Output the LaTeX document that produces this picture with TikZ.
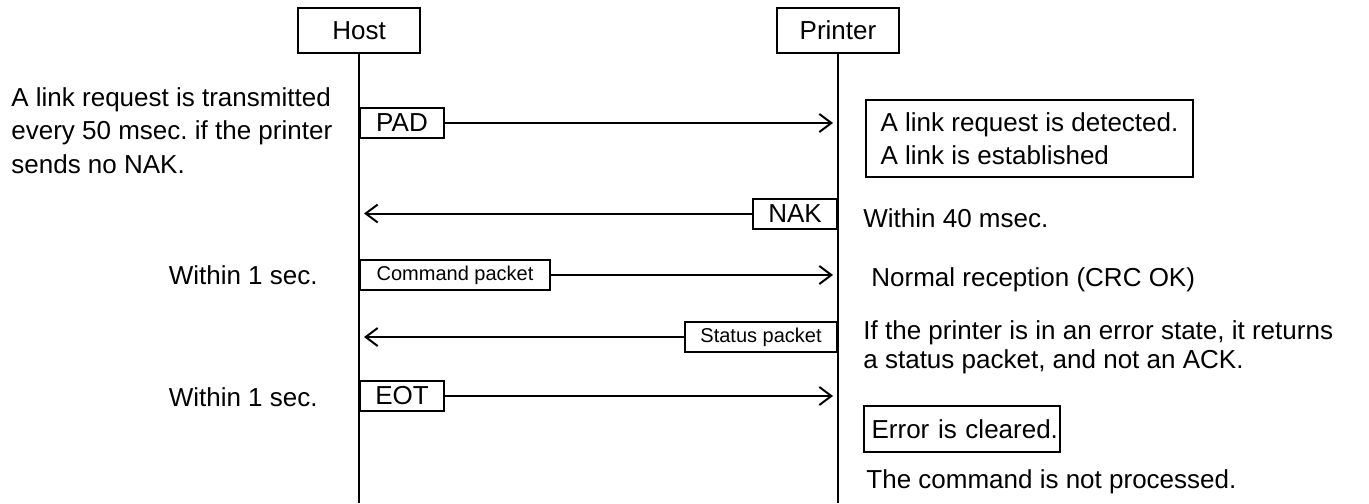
\documentclass[tikz,border=0pt]{standalone}
\usepackage{fontspec}
\setmainfont{Liberation Sans}
\usetikzlibrary{arrows.meta}
\frenchspacing

\begin{document}
\begin{tikzpicture}[x=0.5pt, y=-0.5pt, font=\fontsize{13pt}{16.5pt}\selectfont]
\tikzstyle{actor} = [rectangle, minimum width=61pt, minimum height=22.5pt, text centered, draw=black, line width=1pt]
\tikzstyle{msgbox} = [rectangle, minimum width=42pt, minimum height=15pt, inner sep=0pt, text centered, draw=black, fill=white, line width=1pt]
\tikzstyle{smallbox} = [msgbox, font=\fontsize{10pt}{12pt}\selectfont]
\tikzstyle{notebox} = [rectangle, draw=black, line width=1pt, align=left]
\tikzstyle{note} = [inner sep=0pt, align=left]
\tikzstyle{lifeline} = [line width=1pt]
\tikzstyle{arrow} = [line width=1pt, -{Straight Barb[length=6pt, width=9pt]}, shorten >=2.5pt]

\useasboundingbox (0,0) rectangle (1369,503);

\node (host) [actor] at (359,30.5) {Host};
\node (printer) [actor] at (838,30.5) {Printer};
\coordinate (hostend) at (359,503);
\coordinate (printerend) at (838,503);

\draw [lifeline] (host) -- (hostend);
\draw [lifeline] (printer) -- (printerend);

\node (pad) [msgbox, anchor=west] at (359,123) {PAD};
\node (nak) [msgbox, anchor=east] at (838,213.5) {NAK};
\node (cmd) [smallbox, anchor=west, minimum width=95pt] at (359,275) {Command packet};
\node (status) [smallbox, anchor=east, minimum width=76pt] at (838,337) {Status packet};
\node (eot) [msgbox, anchor=west] at (359,396) {EOT};

\draw [arrow] (pad) -- (pad -| printerend);
\draw [arrow] (nak) -- (nak -| hostend);
\draw [arrow] (cmd) -- (cmd -| printerend);
\draw [arrow] (status) -- (status -| hostend);
\draw [arrow] (eot) -- (eot -| printerend);

% host side
\node (linkreq) [note, anchor=west, font=\fontsize{13pt}{16.75pt}\selectfont] at (11,130.5) {A link request is transmitted\\every 50 msec. if the printer\\sends no NAK.};
\node (wait1) [note, anchor=east] at (318,275) {Within 1 sec.};
\node (wait2) [note, anchor=east] at (318,397) {Within 1 sec.};

% printer side
\node (linknote) [notebox, anchor=north west, minimum width=163.5pt, minimum height=38.5pt] at (865,99) {A link request is detected.\\A link is established};
\node (nakwait) [note, anchor=west] at (863,218) {Within 40 msec.};
\node (normal) [note, anchor=west] at (871,280) {Normal reception (CRC OK)};
\node (errstate) [note, anchor=west, font=\fontsize{13pt}{14.5pt}\selectfont] at (863,347.5) {If the printer is in an error state, it returns\\a status packet, and not an ACK.};
\node (cleared) [notebox, anchor=west, align=right, inner xsep=1pt, text width=96pt, minimum height=23pt] at (863,429) {Error is cleared.};
\node (notdone) [note, anchor=west] at (866,482) {The command is not processed.};
\end{tikzpicture}
\end{document}
